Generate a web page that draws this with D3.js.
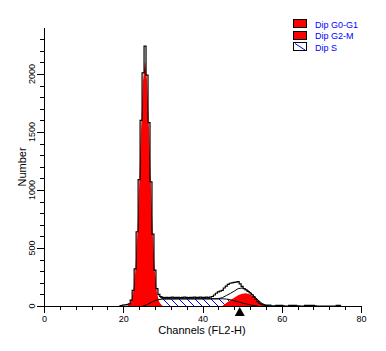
<!DOCTYPE html>
<html>
<head>
<meta charset="utf-8">
<script src="https://cdn.jsdelivr.net/npm/d3@7"></script>
<style>
body { margin: 0; background: #fff; }
text { font-family: "Liberation Sans", Arial, sans-serif; }
</style>
</head>
<body>
<div id="chart"></div>
<script>
// measured histogram [channel, count]
var histogram = [
  [19,0],[19.5,4],[20,7],[20.5,9],[21,12],[21.5,18],[22,50],[22.5,135],[23,320],[23.5,640],
  [24,1090],[24.5,1600],[25,2010],[25.5,2240],[26,1990],[26.5,1580],[27,1070],[27.5,620],[28,310],[28.5,150],
  [29,100],[29.5,82],[30,74],[30.5,72],[31,75],[31.5,73],[32,74],[32.5,76],[33,73],[33.5,74],
  [34,75],[34.5,73],[35,74],[35.5,76],[36,74],[36.5,73],[37,75],[37.5,74],[38,76],[38.5,74],
  [39,75],[39.5,76],[40,74],[40.5,75],[41,76],[41.5,74],[42,76],[42.5,82],[43,95],[43.5,110],
  [44,122],[44.5,128],[45,135],[45.5,155],[46,172],[46.5,186],[47,196],[47.5,200],[48,203],[48.5,205],
  [49,210],[49.5,190],[50,170],[50.5,150],[51,138],[51.5,125],[52,112],[52.5,98],[53,78],[53.5,58],
  [54,38],[54.5,22],[55,14],[55.5,9],[56,6],[56.5,7],[57,7],[57.5,2],[58,1],[59,6],
  [60,6],[60.5,1],[61,0],[62.5,6],[63.5,6],[64,1],[65,0],[66.5,6],[67.5,6],[68,6],
  [68.5,1],[69,0],[73.5,0],[74,6],[74.5,6],[75,0]
];

// model components
var g0g1 = [
  [21,0],[21.5,13],[22,42],[22.5,118],[23,286],[23.5,587],[24,1027],[24.5,1532],[25,1948],[25.5,2110],
  [26,1948],[26.5,1532],[27,1027],[27.5,587],[28,286],[28.5,118],[29,42],[29.5,13],[30,0]
];
var g2m = [
  [45,0],[46,25],[47,50],[48,72],[49,92],[50,106],[51,110],[52,100],[53,78],[54,45],[55,15],[56,0]
];
var sPhase = [
  [25,0],[26,12],[27,30],[28,46],[29,56],[30,60],[34,61],[38,61],[42,61],[45,62],
  [46,60],[47,54],[48,45],[49,36],[50,27],[51,18],[52,10],[53,4],[54,0]
];
var fitSum = [
  [29,90],[29.5,70],[30,62],[44,63],[45,72],[46,90],[47,108],[48,128],[49,150],[50,155],
  [51,145],[52,120],[53,86],[54,52],[55,22],[56,6],[57,0]
];

var markerChannel = 49.4;

var xMajorTicks = [0, 20, 40, 60, 80];
var xMinorTicks = [4, 8, 12, 16, 24, 28, 32, 36, 44, 48, 52, 56, 64, 68, 72, 76];
var yMajorTicks = [0, 500, 1000, 1500, 2000];
var yMinorTicks = [100, 200, 300, 400, 600, 700, 800, 900, 1100, 1200, 1300, 1400,
                   1600, 1700, 1800, 1900, 2100, 2200, 2300];

var legendLabels = ["Dip G0-G1", "Dip G2-M", "Dip S"];
var legendFills = ["#ff0000", "#ff0000", "hatch"];

var width = 386, height = 351;

var x = d3.scaleLinear().domain([0, 80]).range([44, 361]);
var y = d3.scaleLinear().domain([0, 2400]).range([306, 27.6]);

var svg = d3.select("#chart").append("svg")
    .attr("width", width)
    .attr("height", height);

svg.append("rect").attr("width", width).attr("height", height).attr("fill", "#fff");

var defs = svg.append("defs");
defs.append("pattern")
    .attr("id", "hatch")
    .attr("patternUnits", "userSpaceOnUse")
    .attr("width", 8)
    .attr("height", 8)
  .append("path")
    .attr("d", "M-2,-2 L10,10 M-2,6 L2,10 M6,-2 L10,2")
    .attr("stroke", "#0000ff")
    .attr("stroke-width", 1);

var area = d3.area()
    .x(function(d) { return x(d[0]); })
    .y0(y(0))
    .y1(function(d) { return y(d[1]); });

var line = d3.line()
    .x(function(d) { return x(d[0]); })
    .y(function(d) { return y(d[1]); });

// S phase hatched
svg.append("path")
    .datum(sPhase)
    .attr("fill", "url(#hatch)")
    .attr("d", area);

// G0-G1 and G2-M peaks
svg.append("path")
    .datum(g0g1)
    .attr("fill", "#ff0000")
    .attr("d", area);

svg.append("path")
    .datum(g2m)
    .attr("fill", "#ff0000")
    .attr("d", area);

// outlines on top
svg.append("path")
    .datum(sPhase)
    .attr("fill", "none")
    .attr("stroke", "#000")
    .attr("stroke-width", 1)
    .attr("d", line);

svg.append("path")
    .datum(fitSum)
    .attr("fill", "none")
    .attr("stroke", "#000")
    .attr("stroke-width", 1)
    .attr("d", line);

svg.append("path")
    .datum(histogram)
    .attr("fill", "none")
    .attr("stroke", "#000")
    .attr("stroke-width", 1.2)
    .attr("d", line.curve(d3.curveStep));

// axes
var fontTick = "9px";

var xg = svg.append("g").attr("transform", "translate(0," + y(0) + ")");
xg.call(d3.axisBottom(x).tickValues(xMajorTicks).tickSize(7).tickSizeOuter(0).tickPadding(3));
xg.append("g").call(d3.axisBottom(x).tickValues(xMinorTicks).tickSize(4).tickFormat(""))
  .select(".domain").remove();

var yg = svg.append("g").attr("transform", "translate(" + x(0) + ",0)");
yg.call(d3.axisLeft(y).tickValues(yMajorTicks).tickSize(7).tickSizeOuter(0).tickFormat(""));
yg.append("g").call(d3.axisLeft(y).tickValues(yMinorTicks).tickSize(4).tickFormat(""))
  .select(".domain").remove();

svg.selectAll(".domain, .tick line")
    .attr("stroke", "#000")
    .attr("shape-rendering", "crispEdges");

xg.selectAll(".tick text")
    .attr("font-size", fontTick)
    .attr("font-family", "Liberation Sans, Arial, sans-serif")
    .attr("fill", "#000");

// rotated y tick labels
svg.selectAll(".ylab")
    .data(yMajorTicks)
  .enter().append("text")
    .attr("class", "ylab")
    .attr("transform", function(d) { return "translate(35," + y(d) + ") rotate(-90)"; })
    .attr("text-anchor", "middle")
    .attr("font-size", fontTick)
    .text(function(d) { return d; });

svg.append("text")
    .attr("x", 202)
    .attr("y", 334)
    .attr("text-anchor", "middle")
    .attr("font-size", "11px")
    .text("Channels (FL2-H)");

svg.append("text")
    .attr("transform", "translate(26,167) rotate(-90)")
    .attr("text-anchor", "middle")
    .attr("font-size", "11px")
    .text("Number");

// marker triangle
var mx = x(markerChannel);
svg.append("path")
    .attr("d", "M" + mx + "," + (y(0) + 1) + " L" + (mx + 5) + "," + (y(0) + 10) + " L" + (mx - 5) + "," + (y(0) + 10) + "Z")
    .attr("fill", "#000");

// legend
var legend = svg.append("g").attr("transform", "translate(293,19)");
var items = legend.selectAll("g")
    .data(legendLabels)
  .enter().append("g")
    .attr("transform", function(d, i) { return "translate(0," + (i * 11.5) + ")"; });

items.append("rect")
    .attr("x", 0.5).attr("y", 0.5)
    .attr("width", 13).attr("height", 8)
    .attr("fill", function(d, i) { return legendFills[i] == "hatch" ? "#fff" : legendFills[i]; })
    .attr("stroke", "#000")
    .attr("shape-rendering", "crispEdges");

items.filter(function(d, i) { return legendFills[i] == "hatch"; })
  .append("line")
    .attr("x1", 2).attr("y1", 1.5).attr("x2", 12).attr("y2", 8)
    .attr("stroke", "#0000ff");

items.append("text")
    .attr("x", 22)
    .attr("y", 8.5)
    .attr("font-size", "9px")
    .attr("fill", "#0000ff")
    .text(function(d) { return d; });
</script>
</body>
</html>
